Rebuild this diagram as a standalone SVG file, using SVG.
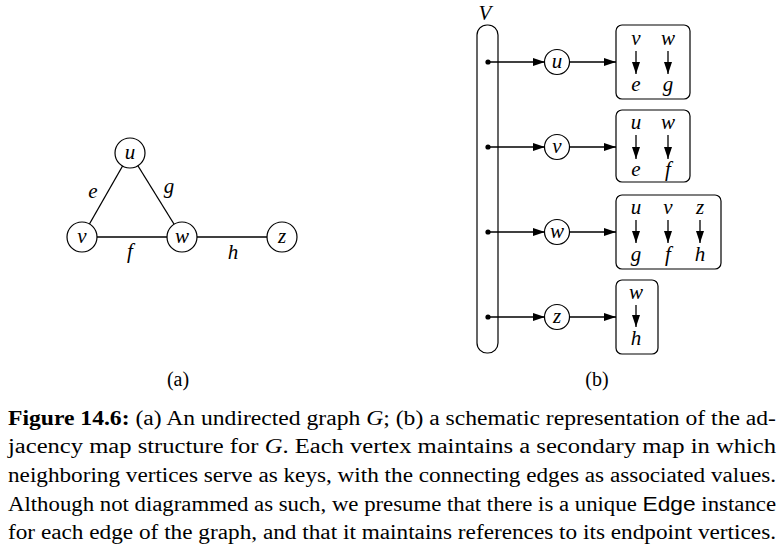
<svg xmlns="http://www.w3.org/2000/svg" width="784" height="549" viewBox="0 0 784 549">
<style>
.n{fill:#fff;stroke:#000;stroke-width:1.2}
.e{stroke:#000;stroke-width:1.3;fill:none}
.b{fill:#fff;stroke:#000;stroke-width:1.2}
.i{font-style:italic;font-size:21px;fill:#000;text-anchor:middle}
.c{font-size:20px;fill:#000}
.l{font-size:20px;fill:#000;text-anchor:middle}
</style>
<defs>
<marker id="ah" markerUnits="userSpaceOnUse" markerWidth="12" markerHeight="8" viewBox="0 0 12 8" refX="12" refY="4" orient="auto">
<path d="M0,0 L12,4 L0,8 Z" fill="#000"/>
</marker>
</defs>
<rect width="784" height="549" fill="#fff"/>
<g font-family="'Liberation Serif', 'Times New Roman', Tinos, serif">
<g id="graph-a-edges">
<line class="e" x1="130" y1="153" x2="82" y2="237"/>
<line class="e" x1="130" y1="153" x2="182" y2="237"/>
<line class="e" x1="82" y1="237" x2="282" y2="237"/>
<text class="i" x="93" y="198">e</text>
<text class="i" x="169" y="193">g</text>
<text class="i" x="130" y="258">f</text>
<text class="i" x="233" y="259">h</text>
</g>
<g id="a-u"><circle class="n" cx="130" cy="153" r="15"/><text class="i" x="130" y="159">u</text></g>
<g id="a-v"><circle class="n" cx="82" cy="237" r="15"/><text class="i" x="82" y="243">v</text></g>
<g id="a-w"><circle class="n" cx="182" cy="237" r="15"/><text class="i" x="182" y="243">w</text></g>
<g id="a-z"><circle class="n" cx="282" cy="237" r="15"/><text class="i" x="282" y="243">z</text></g>
<text class="l" x="178" y="386">(a)</text>

<g id="V">
<text class="i" x="485" y="20" font-size="20">V</text>
<rect class="b" x="477" y="25" width="21" height="328" rx="10"/>
</g>
<g id="connectors">
<g class="e" marker-end="url(#ah)">
<line x1="488" y1="62" x2="545" y2="62"/><line x1="570" y1="62" x2="616" y2="62"/>
<line x1="488" y1="147" x2="545" y2="147"/><line x1="570" y1="147" x2="616" y2="147"/>
<line x1="488" y1="232" x2="545" y2="232"/><line x1="570" y1="232" x2="616" y2="232"/>
<line x1="488" y1="317" x2="545" y2="317"/><line x1="570" y1="317" x2="616" y2="317"/>
</g>
<circle cx="488" cy="62" r="2.6"/><circle cx="488" cy="147" r="2.6"/><circle cx="488" cy="232" r="2.6"/><circle cx="488" cy="317" r="2.6"/>
</g>
<g id="b-u"><circle class="n" cx="557" cy="62" r="12.5"/><text class="i" x="557" y="68">u</text></g>
<g id="b-v"><circle class="n" cx="557" cy="147" r="12.5"/><text class="i" x="557" y="153">v</text></g>
<g id="b-w"><circle class="n" cx="557" cy="232" r="12.5"/><text class="i" x="557" y="238">w</text></g>
<g id="b-z"><circle class="n" cx="557" cy="317" r="12.5"/><text class="i" x="557" y="323">z</text></g>

<g id="map-u">
<rect class="b" x="616" y="25" width="74" height="74" rx="6"/>
<text class="i" x="636" y="45">v</text><text class="i" x="668" y="45">w</text>
<line class="e" x1="636" y1="51" x2="636" y2="74" marker-end="url(#ah)"/>
<line class="e" x1="668" y1="51" x2="668" y2="74" marker-end="url(#ah)"/>
<text class="i" x="636" y="91">e</text><text class="i" x="668" y="91">g</text>
</g>
<g id="map-v">
<rect class="b" x="616" y="110" width="74" height="72" rx="6"/>
<text class="i" x="636" y="129">u</text><text class="i" x="668" y="129">w</text>
<line class="e" x1="636" y1="135" x2="636" y2="159" marker-end="url(#ah)"/>
<line class="e" x1="668" y1="135" x2="668" y2="159" marker-end="url(#ah)"/>
<text class="i" x="636" y="176">e</text><text class="i" x="668" y="176">f</text>
</g>
<g id="map-w">
<rect class="b" x="616" y="195" width="105" height="74" rx="6"/>
<text class="i" x="636" y="214">u</text><text class="i" x="668" y="214">v</text><text class="i" x="700" y="214">z</text>
<line class="e" x1="636" y1="220" x2="636" y2="243" marker-end="url(#ah)"/>
<line class="e" x1="668" y1="220" x2="668" y2="243" marker-end="url(#ah)"/>
<line class="e" x1="700" y1="220" x2="700" y2="243" marker-end="url(#ah)"/>
<text class="i" x="636" y="261">g</text><text class="i" x="668" y="261">f</text><text class="i" x="700" y="261">h</text>
</g>
<g id="map-z">
<rect class="b" x="616" y="280" width="42" height="74" rx="6"/>
<text class="i" x="636" y="299">w</text>
<line class="e" x1="636" y1="305" x2="636" y2="327" marker-end="url(#ah)"/>
<text class="i" x="636" y="345">h</text>
</g>
<text class="l" x="597" y="386">(b)</text>

<g id="caption">
<text class="c" x="8" y="425" textLength="768" lengthAdjust="spacingAndGlyphs"><tspan font-weight="bold">Figure 14.6:</tspan> (a) An undirected graph <tspan font-style="italic">G</tspan>; (b) a schematic representation of the ad-</text>
<text class="c" x="8" y="453" textLength="768" lengthAdjust="spacingAndGlyphs">jacency map structure for <tspan font-style="italic">G</tspan>.  Each vertex maintains a secondary map in which</text>
<text class="c" x="8" y="482" textLength="768" lengthAdjust="spacingAndGlyphs">neighboring vertices serve as keys, with the connecting edges as associated values.</text>
<text class="c" x="8" y="511" textLength="768" lengthAdjust="spacingAndGlyphs">Although not diagrammed as such, we presume that there is a unique <tspan font-family="'Liberation Sans', Arial, sans-serif">Edge</tspan> instance</text>
<text class="c" x="8" y="539" textLength="768" lengthAdjust="spacingAndGlyphs">for each edge of the graph, and that it maintains references to its endpoint vertices.</text>
</g>
</g>
</svg>
